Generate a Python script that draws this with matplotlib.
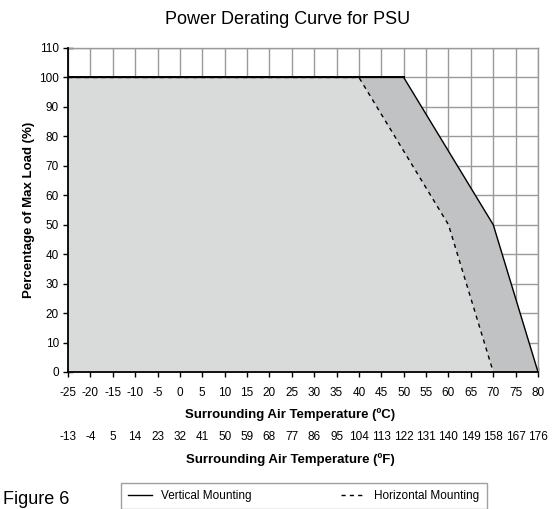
import matplotlib
matplotlib.use("Agg")
import matplotlib.pyplot as plt
from matplotlib.lines import Line2D

plt.rcParams['font.family'] = ['Liberation Sans', 'DejaVu Sans']

# Data
vert_temp = [-25, 50, 70, 80]
vert_load = [100, 100, 50, 0]
horiz_temp = [-25, 40, 60, 70]
horiz_load = [100, 100, 50, 0]
c_ticks = list(range(-25, 81, 5))
f_labels = ["-13", "-4", "5", "14", "23", "32", "41", "50", "59", "68", "77", "86",
            "95", "104", "113", "122", "131", "140", "149", "158", "167", "176"]
y_ticks = list(range(0, 111, 10))

W, H = 556, 509
fig = plt.figure(figsize=(W / 100, H / 100), dpi=100)
ax = fig.add_axes([68 / W, 1 - 372 / H, (538 - 68) / W, (372 - 48) / H])

ax.set_xlim(-25, 80)
ax.set_ylim(0, 110)

# grid
ax.set_xticks(c_ticks)
ax.set_yticks(y_ticks)
ax.grid(True, color='#9a9a9a', lw=1.0, zorder=0)
ax.set_axisbelow(True)

# fills
ax.fill_between(vert_temp, vert_load, color='#c1c2c4', lw=0, zorder=1)
ax.fill_between(horiz_temp, horiz_load, color='#d9dbdb', lw=0, zorder=2)

# curves
ax.plot(vert_temp, vert_load, color='black', lw=1.0, zorder=4, label='Vertical Mounting')
ax.plot(horiz_temp, horiz_load, color='black', lw=1.0, ls=(0, (3, 3)), zorder=4,
        label='Horizontal Mounting')
ax.plot(vert_temp[:2], vert_load[:2], color='black', lw=1.4, zorder=5)

for s in ['top', 'right']:
    ax.spines[s].set_color('#9a9a9a')
    ax.spines[s].set_linewidth(1.0)
for s in ['left', 'bottom']:
    ax.spines[s].set_color('black')
    ax.spines[s].set_linewidth(1.3)
    ax.spines[s].set_zorder(6)

ax.tick_params(axis='both', direction='inout', length=7, width=1.0, color='black',
               labelsize=8.5, pad=3)
ax.tick_params(axis='x', pad=7)

ax.set_xticklabels([str(t) for t in c_ticks])
ax.set_yticklabels([str(t) for t in y_ticks])

ax.set_ylabel('Percentage of Max Load (%)', fontsize=9.5, fontweight='bold', labelpad=3)

# Celsius label
fig.text(290 / W, 1 - 415 / H, 'Surrounding Air Temperature (ºC)', ha='center', va='center',
         fontsize=9.5, fontweight='bold')

# Fahrenheit axis
sec = ax.secondary_xaxis(-0.182)
sec.set_xticks(c_ticks)
sec.set_xticklabels(f_labels)
sec.tick_params(length=0, labelsize=8.5, pad=0)
sec.spines['bottom'].set_visible(False)

fig.text(290 / W, 1 - 460 / H, 'Surrounding Air Temperature (ºF)', ha='center', va='center',
         fontsize=9.5, fontweight='bold')

# Title
fig.text(288 / W, 1 - 19 / H, 'Power Derating Curve for PSU', ha='center', va='center',
         fontsize=13)

# Figure label
fig.text(3 / W, 1 - 500 / H, 'Figure 6', ha='left', va='center', fontsize=13)

# Legend
handles = [Line2D([], [], color='black', lw=1.0),
           Line2D([], [], color='black', lw=1.0, ls=(0, (3, 3)))]
leg = fig.legend(handles, ['Vertical Mounting', 'Horizontal Mounting'], ncol=2,
                 loc='upper left', bbox_to_anchor=(121 / W, 1 - 483 / H),
                 fontsize=8.5, frameon=True, fancybox=False, edgecolor='#888888',
                 handlelength=2.0, columnspacing=7.6, borderpad=0.6,
                 borderaxespad=0)
leg.get_frame().set_linewidth(1.0)

fig.savefig('out.png', dpi=100)
